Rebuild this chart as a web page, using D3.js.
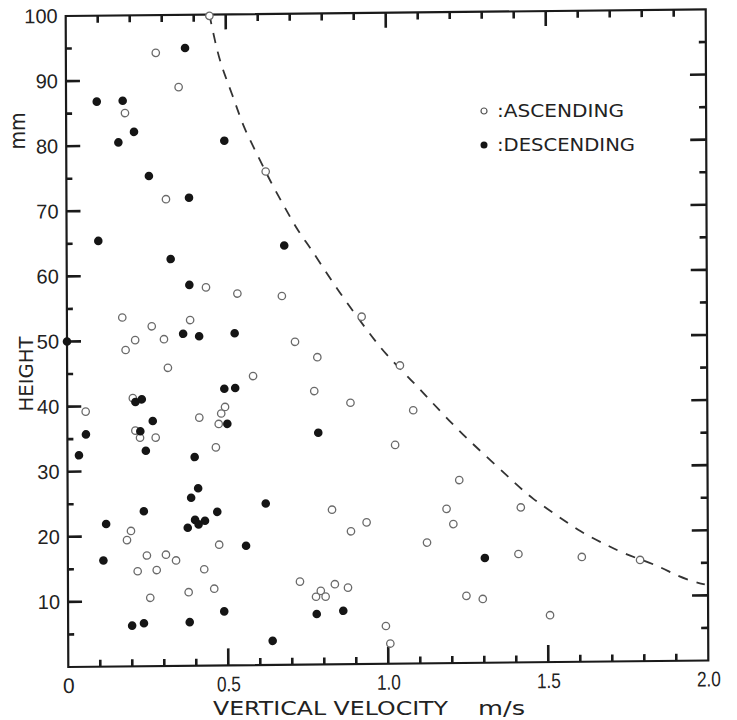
<!DOCTYPE html>
<html>
<head>
<meta charset="utf-8">
<script src="https://cdn.jsdelivr.net/npm/d3@7"></script>
<style>
    html, body { margin: 0; padding: 0; background: #fff; }
    svg { display: block; }
    .lbl { font-family: "DejaVu Sans", sans-serif; fill: #222; }
    .num { font-family: "Liberation Sans", Arial, sans-serif; fill: #222; }
</style>
</head>
<body>
<svg id="chart"></svg>
<script>
// [vertical velocity m/s, height mm]
const ascending = [
    [0.449, 99.8], [0.281, 94.2], [0.352, 88.9], [0.184, 85.0], [0.623, 75.8],
    [0.311, 71.7], [0.435, 58.1], [0.533, 57.1], [0.672, 56.65], [0.173, 53.6],
    [0.921, 53.35], [0.385, 53.1], [0.265, 52.2], [0.213, 50.1], [0.303, 50.2],
    [0.7125, 49.6], [0.183, 48.6], [0.782, 47.2], [1.040, 45.8], [0.315, 45.8],
    [0.581, 44.4], [0.772, 42.0], [0.205, 41.2], [0.885, 40.15], [0.493, 39.7],
    [0.0575, 39.2], [1.081, 38.9], [0.481, 38.7], [0.4125, 38.1], [0.473, 37.1],
    [0.2125, 36.2], [0.227, 35.1], [0.276, 35.1], [1.024, 33.6], [0.464, 33.5],
    [1.224, 28.1], [0.826, 23.75], [1.184, 23.7], [1.416, 23.8], [0.934, 21.75],
    [1.205, 21.35], [0.1975, 20.8], [0.885, 20.4], [0.185, 19.4], [1.1225, 18.55],
    [0.473, 18.55], [0.247, 17.0], [0.3065, 17.1], [0.338, 16.2], [1.408, 16.65],
    [1.606, 16.1], [1.788, 15.55], [0.218, 14.6], [0.2775, 14.75], [0.426, 14.8],
    [0.725, 12.75], [0.834, 12.3], [0.875, 11.75], [0.79, 11.3], [0.377, 11.3],
    [0.457, 11.8], [0.257, 10.5], [0.775, 10.4], [0.805, 10.4], [1.245, 10.3],
    [1.296, 9.8], [1.506, 7.2], [0.993, 5.8], [1.0066, 3.1]
];

const descending = [
    [0.096, 86.8], [0.177, 86.9], [0.163, 80.5], [0.212, 82.1], [0.3725, 94.9],
    [0.494, 80.6], [0.258, 75.3], [0.383, 71.9], [0.099, 65.4], [0.68, 64.4],
    [0.325, 62.5], [0.383, 58.5], [0.363, 51.0], [0.413, 50.6], [0.524, 51.0],
    [0.0, 50.0], [0.491, 42.5], [0.525, 42.6], [0.213, 40.6], [0.233, 41.0],
    [0.5, 37.1], [0.267, 37.65], [0.228, 36.1], [0.058, 35.7], [0.784, 35.6],
    [0.036, 32.5], [0.245, 33.1], [0.3975, 32.05], [0.386, 25.8], [0.408, 27.25],
    [0.238, 23.8], [0.4675, 23.6], [0.619, 24.8], [0.12, 21.9], [0.375, 21.2],
    [0.398, 22.4], [0.409, 21.7], [0.429, 22.25], [0.557, 18.35], [0.111, 16.3],
    [1.303, 16.1], [0.488, 8.3], [0.777, 7.75], [0.86, 8.2], [0.2, 6.25],
    [0.237, 6.6], [0.38, 6.7], [0.639, 3.7]
];

// dashed upper limit, read dash by dash
const boundary = [
    [0.449, 100], [0.474, 94.0], [0.496, 90.7], [0.527, 86.7], [0.552, 82.9],
    [0.593, 78.8], [0.638, 74.2], [0.683, 70.2], [0.724, 66.5], [0.761, 64.1],
    [0.822, 59.3], [0.874, 55.6], [0.937, 51.3], [0.994, 47.6], [1.082, 43.2],
    [1.134, 40.4], [1.192, 37.3], [1.254, 34.2], [1.322, 31.1], [1.395, 27.7],
    [1.452, 25.1], [1.530, 22.5], [1.603, 19.9], [1.676, 18.1], [1.738, 16.5],
    [1.843, 14.7], [1.900, 13.1], [1.962, 12.0], [1.990, 11.7]
];

const xMajor = [0, 0.5, 1.0, 1.5, 2.0];
const xMinor = [0.1, 0.2, 0.3, 0.4, 0.6, 0.7, 0.8, 0.9, 1.1, 1.2, 1.3, 1.4, 1.6, 1.7, 1.8, 1.9];
const yMajor = [10, 20, 30, 40, 50, 60, 70, 80, 90, 100];
const yMinor = [5, 15, 25, 35, 45, 55, 65, 75, 85, 95];

const legendItems = [
    { label: ":ASCENDING", filled: false },
    { label: ":DESCENDING", filled: true }
];

const totalWidth = 737;
const totalHeight = 720;
const plotWidth = 640;
const plotHeight = 651;
const ink = "#1a1a1a";
const skew = "matrix(1,-0.0102,0.004,1,65.7,16)";

const svg = d3.select("#chart")
    .attr("width", totalWidth)
    .attr("height", totalHeight);

svg.append("rect")
    .attr("width", totalWidth)
    .attr("height", totalHeight)
    .attr("fill", "#fff");

const xScale = d3.scaleLinear().domain([0, 2]).range([0, plotWidth]);
const yScale = d3.scaleLinear().domain([0, 100]).range([plotHeight, 0]);

// the printed figure sits slightly askew on the page
const g = svg.append("g")
    .attr("transform", skew);

// frame
g.append("rect")
    .attr("width", plotWidth)
    .attr("height", plotHeight)
    .attr("fill", "none")
    .attr("stroke", ink)
    .attr("stroke-width", 2.2);

// inward ticks, one path per kind, positions from the scales
const tickPath = (values, scale, vertical, base, len) => {
    const p = d3.path();
    values.forEach(v => {
        const s = scale(v);
        if (vertical) { p.moveTo(s, base); p.lineTo(s, base + len); }
        else { p.moveTo(base, s); p.lineTo(base + len, s); }
    });
    return p.toString();
};

const tickSpecs = [
    [xMinor, xScale, true, plotHeight, -7],
    [xMajor.slice(1, -1), xScale, true, plotHeight, -17],
    [xMinor, xScale, true, 0, 7],
    [xMajor.slice(1, -1), xScale, true, 0, 15],
    [yMinor, yScale, false, 0, 6],
    [yMajor.slice(0, -1), yScale, false, 0, 14],
    [yMinor, yScale, false, plotWidth, -7],
    [yMajor.slice(0, -1), yScale, false, plotWidth, -16]
];

g.append("g")
    .selectAll("path")
    .data(tickSpecs)
    .enter().append("path")
    .attr("d", d => tickPath(...d))
    .attr("fill", "none")
    .attr("stroke", ink)
    .attr("stroke-width", 2.6);

const fmtX = d => d === 0 ? "0" : d3.format(".1f")(d);

// labels from the axes (their own lines removed)
const xAxisG = g.append("g")
    .attr("transform", `translate(0,${plotHeight})`)
    .call(d3.axisBottom(xScale).tickValues(xMajor).tickSize(0).tickPadding(11).tickFormat(fmtX));
xAxisG.select(".domain").remove();
xAxisG.selectAll(".tick text")
    .attr("class", "num")
    .attr("font-size", 21)
    .attr("textLength", d => d === 0 ? null : 24)
    .attr("lengthAdjust", "spacingAndGlyphs");

const yAxisG = g.append("g")
    .call(d3.axisLeft(yScale).tickValues(yMajor).tickSize(0).tickPadding(8));
yAxisG.select(".domain").remove();
yAxisG.selectAll(".tick text")
    .attr("class", "num")
    .attr("font-size", 20);

// dashed limit curve
const line = d3.line()
    .x(d => xScale(d[0]))
    .y(d => yScale(d[1]))
    .curve(d3.curveBasis);

g.append("path")
    .datum(boundary)
    .attr("d", line)
    .attr("fill", "none")
    .attr("stroke", "#333")
    .attr("stroke-width", 1.8)
    .attr("stroke-dasharray", "10,9");

// points
g.append("g")
    .selectAll("circle")
    .data(ascending)
    .enter().append("circle")
    .attr("cx", d => xScale(d[0]))
    .attr("cy", d => yScale(d[1]))
    .attr("r", 3.7)
    .attr("fill", "#fff")
    .attr("stroke", "#6a6a6a")
    .attr("stroke-width", 1.3);

g.append("g")
    .selectAll("circle")
    .data(descending)
    .enter().append("circle")
    .attr("cx", d => xScale(d[0]))
    .attr("cy", d => yScale(d[1]))
    .attr("r", 4.3)
    .attr("fill", "#151515");

// legend
const legend = svg.append("g")
    .attr("transform", "translate(484,111)");

const legendRow = legend.selectAll("g")
    .data(legendItems)
    .enter().append("g")
    .attr("transform", (d, i) => `translate(0,${i * 34})`);

legendRow.append("circle")
    .attr("r", d => d.filled ? 3.5 : 3)
    .attr("fill", d => d.filled ? "#151515" : "#fff")
    .attr("stroke", d => d.filled ? "none" : "#555")
    .attr("stroke-width", 1.2);

legendRow.append("text")
    .attr("class", "lbl")
    .attr("x", 13)
    .attr("y", 6)
    .attr("font-size", 17)
    .attr("textLength", d => d.filled ? 138 : 127)
    .attr("lengthAdjust", "spacingAndGlyphs")
    .text(d => d.label);

// axis titles
svg.append("text")
    .attr("class", "lbl")
    .attr("transform", "translate(33,374) rotate(-90)")
    .attr("text-anchor", "middle")
    .attr("font-size", 20)
    .attr("textLength", 75)
    .attr("lengthAdjust", "spacingAndGlyphs")
    .text("HEIGHT");

svg.append("text")
    .attr("class", "lbl")
    .attr("transform", "translate(25,131) rotate(-90)")
    .attr("text-anchor", "middle")
    .attr("font-size", 21)
    .attr("textLength", 37)
    .attr("lengthAdjust", "spacingAndGlyphs")
    .text("mm");

svg.append("text")
    .attr("class", "lbl")
    .attr("x", 213)
    .attr("y", 715)
    .attr("font-size", 20)
    .attr("textLength", 235)
    .attr("lengthAdjust", "spacingAndGlyphs")
    .text("VERTICAL VELOCITY");

svg.append("text")
    .attr("class", "lbl")
    .attr("x", 478)
    .attr("y", 715)
    .attr("font-size", 20)
    .attr("textLength", 47)
    .attr("lengthAdjust", "spacingAndGlyphs")
    .text("m/s");
</script>
</body>
</html>
